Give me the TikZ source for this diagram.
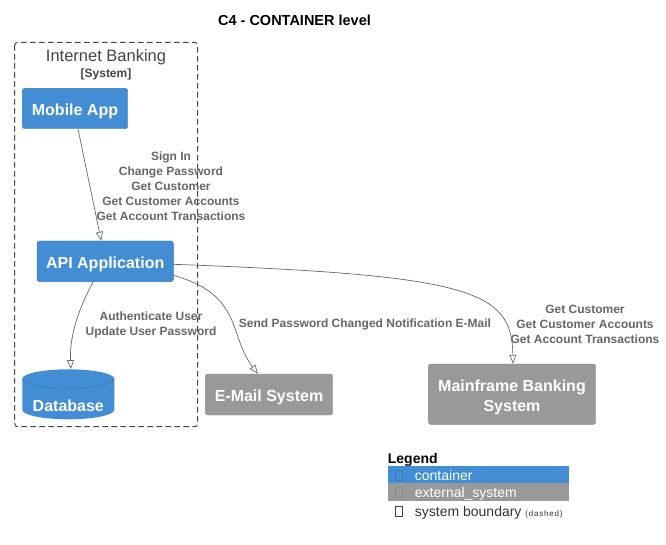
\documentclass[tikz,border=0pt]{standalone}
\usepackage{fontspec}
\setmainfont{Liberation Sans}
\usepackage{tikz}
\usetikzlibrary{arrows.meta}
\definecolor{containerblue}{HTML}{438DD5}
\definecolor{externalgrey}{HTML}{999999}
\definecolor{relgrey}{HTML}{666666}
\definecolor{boundarygrey}{HTML}{444444}
\tikzstyle{container} = [fill=containerblue, draw=containerblue!85!black, line width=0.4pt, rounded corners=2.5pt, text=white, font=\bfseries\fontsize{16}{20}\selectfont, align=center, inner sep=0pt, text height=14pt, text depth=0pt]
\tikzstyle{external} = [container, fill=externalgrey, draw=externalgrey!90!black]
\tikzstyle{database} = [minimum width=92pt, minimum height=50pt, inner sep=0pt, text=white, font=\bfseries\fontsize{16}{20}\selectfont, text height=35pt, text depth=0pt,
  path picture={
    \fill[containerblue] ([yshift=9.5pt]path picture bounding box.south west) arc[start angle=180, end angle=360, x radius=46pt, y radius=9.5pt] -- ([yshift=-9.5pt]path picture bounding box.north east) arc[start angle=0, end angle=180, x radius=46pt, y radius=9.5pt] -- cycle;
    \draw[containerblue!80!black, line width=0.4pt] ([yshift=-9.5pt]path picture bounding box.north west) arc[start angle=180, end angle=360, x radius=46pt, y radius=9.5pt];
  }]
\tikzstyle{rel} = [draw=relgrey, line width=0.7pt, -{Triangle[open, length=9pt, width=7pt]}]
\tikzstyle{rellabel} = [text=relgrey, font=\bfseries\fontsize{12}{15}\selectfont, align=center, inner sep=0pt]
\tikzstyle{legendrow} = [anchor=north west, minimum height=17.3pt, inner xsep=27pt, inner ysep=0pt, text width=127.3pt, text height=14.6pt, text depth=3pt, align=left, font=\fontsize{14}{16}\selectfont]

\begin{document}
\begin{tikzpicture}[x=1pt, y=1pt, line cap=round, line join=round]
  \useasboundingbox (0,0) rectangle (666,-544);
  % title
  \node[font=\bfseries\fontsize{14.5}{16}\selectfont, anchor=base] (title) at (294.5,-25.5) {C4 - CONTAINER level};

  % system boundary
  \draw[boundarygrey, line width=1pt, dash pattern=on 5pt off 4pt, rounded corners=3pt] (14.7,-42.3) rectangle (197.7,-426.7);
  \node[text=boundarygrey, font=\fontsize{16.5}{18}\selectfont, anchor=base] (boundarytitle) at (106,-61.5) {Internet Banking};
  \node[text=boundarygrey, font=\bfseries\fontsize{12}{14}\selectfont, anchor=base] (boundarytype) at (106,-77.5) {[System]};

  % containers
  \node[container, minimum width=105.4pt, minimum height=40.4pt] (mobile) at (75,-108.5) {Mobile App};
  \node[container, minimum width=136.3pt, minimum height=40.7pt] (api) at (105.2,-261.3) {API Application};
  \node[database] (db) at (68.3,-394.3) {Database};
  \node[external, minimum width=127.4pt, minimum height=41pt] (email) at (269,-394.5) {E-Mail System};
  \node[external, minimum width=167.4pt, minimum height=60.3pt, text height=34pt] (mainframe) at (512,-394.2) {Mainframe Banking\\System};

  % relations
  \draw[rel] ([xshift=3pt]mobile.south) -- ([xshift=-4pt]api.north);
  \draw[rel] ([xshift=-12pt]api.south) .. controls +(-18,-33) and +(-1,29) .. ([xshift=2.5pt]db.north);
  \draw[rel] ([yshift=-14pt]api.east) .. controls +(70,-20) and +(-30,39) .. ([xshift=-11pt]email.north);
  \draw[rel] ([yshift=-3pt]api.east) .. controls +(297,-11) and +(-1,74) .. ([xshift=1pt]mainframe.north);

  \node[rellabel] (mobilelabel) at (171,-186) {Sign In\\Change Password\\Get Customer\\Get Customer Accounts\\Get Account Transactions};
  \node[rellabel] (dblabel) at (151,-325) {Authenticate User\\Update User Password};
  \node[rellabel] (emaillabel) at (365,-324) {Send Password Changed Notification E-Mail};
  \node[rellabel] (mainframelabel) at (585,-324) {Get Customer\\Get Customer Accounts\\Get Account Transactions};

  % legend
  \node[font=\bfseries\fontsize{14}{16}\selectfont, anchor=base west, inner sep=0pt] (legendtitle) at (387.7,-463) {Legend};
  \node[legendrow, fill=containerblue, text=white] (legendcontainer) at (387.7,-465.7) {container};
  \node[legendrow, fill=externalgrey, text=white] (legendexternal) at (387.7,-483) {external\_system};
  \node[font=\fontsize{14}{16}\selectfont, text=black!80, anchor=base west, inner sep=0pt] (legendboundary) at (414.7,-516) {system boundary {\fontsize{8}{10}\selectfont\addfontfeatures{LetterSpace=10}(dashed)}};
  \draw[containerblue!88!black, line width=0.5pt] (395,-470.5) rectangle (402.7,-480.5);
  \draw[externalgrey!90!black, line width=0.5pt] (395,-487.5) rectangle (402.7,-497.5);
  \draw[black!75, line width=0.6pt] (395,-506.5) rectangle (402.7,-516.3);
\end{tikzpicture}
\end{document}
